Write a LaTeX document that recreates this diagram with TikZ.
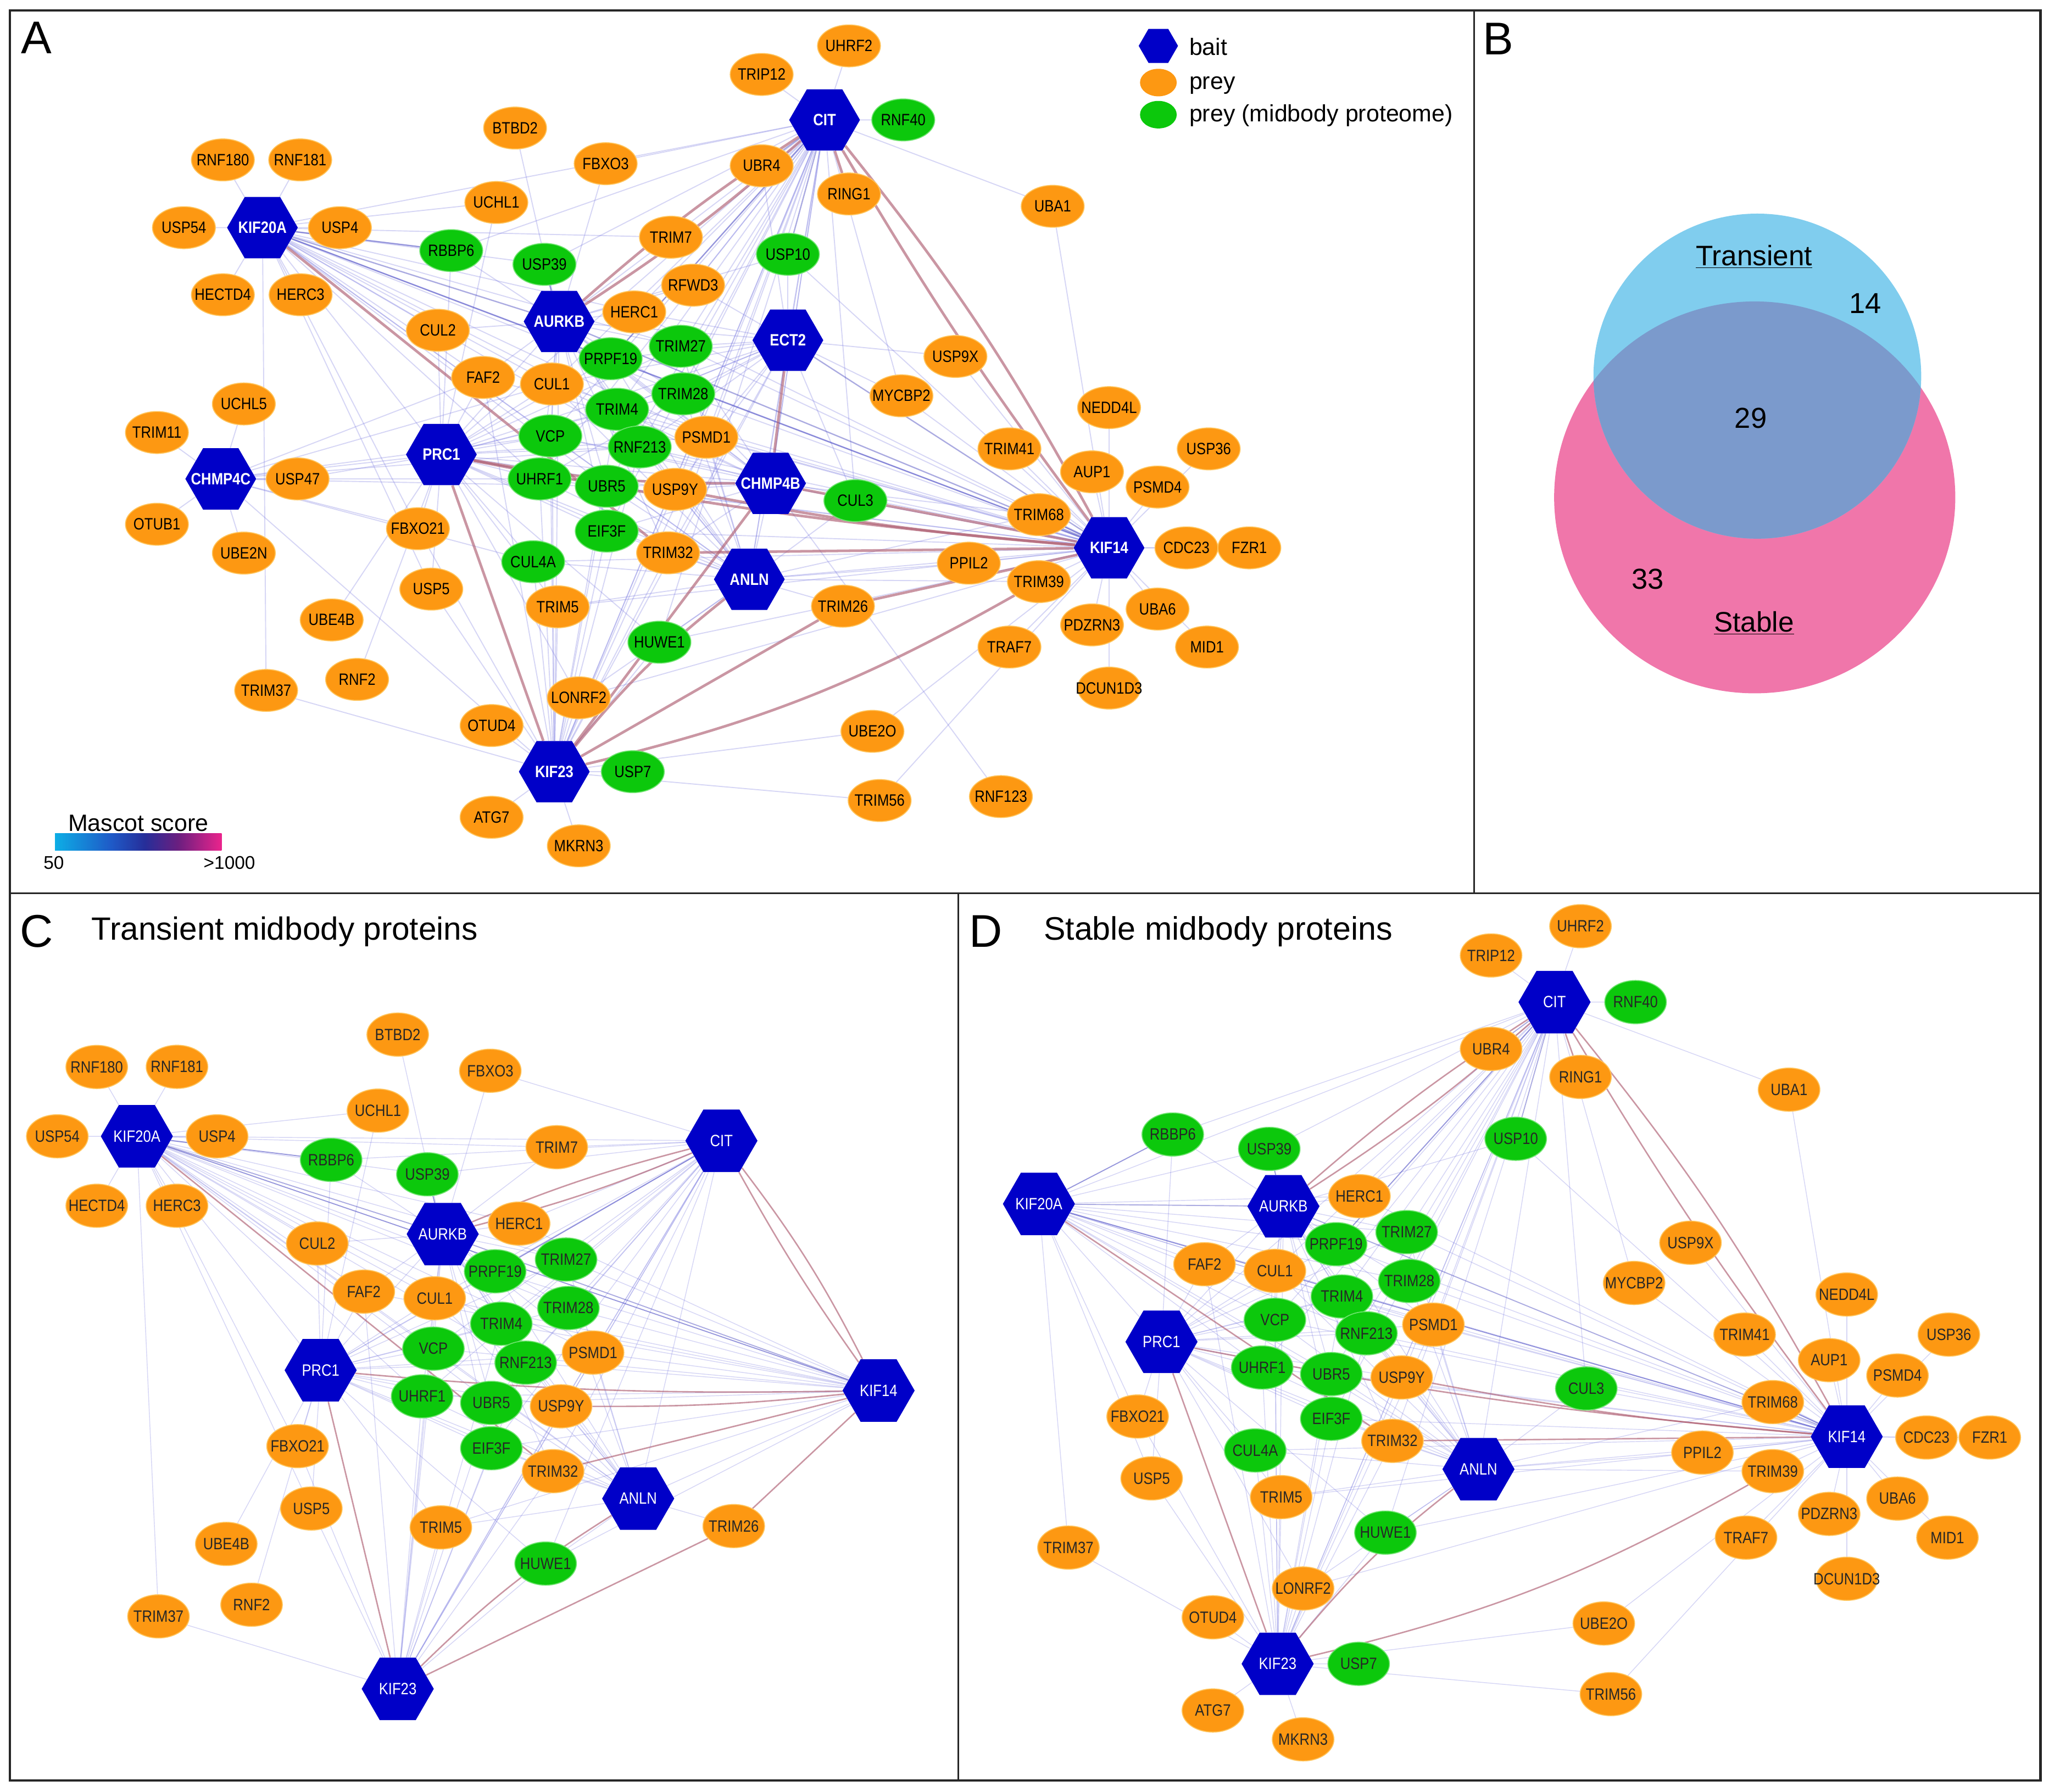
\documentclass[tikz,border=0pt]{standalone}
\usepackage{fontspec}
\setmainfont{Liberation Sans}
\newfontfamily\nf[FakeStretch=0.86]{Liberation Sans}
\usetikzlibrary{shapes.geometric}
\pgfdeclarelayer{back}
\pgfdeclarelayer{bg}
\pgfsetlayers{back,bg,main}
\definecolor{orng}{RGB}{253,152,18}
\definecolor{orngrim}{RGB}{255,196,90}
\definecolor{grn}{RGB}{12,200,12}
\definecolor{grnrim}{RGB}{110,228,110}
\definecolor{bblue}{RGB}{0,0,200}
\definecolor{elc}{RGB}{120,120,225}
\definecolor{emc}{RGB}{70,70,190}
\definecolor{ehc}{RGB}{175,95,115}
\definecolor{vblue}{RGB}{128,205,238}
\definecolor{vpink}{RGB}{240,118,170}
\definecolor{vover}{RGB}{123,154,204}
\pgfdeclarehorizontalshading{mascot}{100bp}{rgb(0bp)=(0.05,0.68,0.90); rgb(25bp)=(0.05,0.68,0.90); rgb(42bp)=(0.12,0.35,0.78); rgb(52bp)=(0.15,0.18,0.60); rgb(62bp)=(0.42,0.12,0.50); rgb(75bp)=(0.92,0.14,0.55); rgb(100bp)=(0.92,0.14,0.55)}
\newcommand\edg[4]{\ifcsname pgf@sh@ns@#1-#2\endcsname\ifcsname pgf@sh@ns@#1-#3\endcsname\draw[#4] (#1-#2) -- (#1-#3);\fi\fi}
\newcommand\edb[5]{\ifcsname pgf@sh@ns@#1-#2\endcsname\ifcsname pgf@sh@ns@#1-#3\endcsname\draw[#4] (#1-#2) to[bend left=#5] (#1-#3);\fi\fi}
\newcommand\alledges[1]{%
 \foreach \b/\ps in {
  KIF20A/{RNF180,RNF181,USP54,USP4,HECTD4,HERC3,TRIM37,RBBP6,USP39,CUL2,FAF2,CUL1,PRPF19,TRIM27,TRIM28,TRIM4,VCP,RNF213,UHRF1,UBR5,PSMD1,UCHL1,TRIM7,HERC1,USP5,FBXO21,CIT,PRC1,KIF14,ANLN},
  CIT/{UHRF2,TRIP12,RNF40,UBA1,TRIM7,PRPF19,TRIM27,TRIM28,TRIM4,RNF213,PSMD1,VCP,USP9Y,UBR5,EIF3F,TRIM32,ANLN,KIF23,PRC1,RFWD3,ECT2,CHMP4B,MYCBP2,CUL3,HUWE1,USP39,RBBP6,FBXO3,UHRF1,CUL1,HERC1},
  AURKB/{USP39,RBBP6,HERC1,PRPF19,TRIM27,CUL1,CUL2,FAF2,TRIM4,VCP,RNF213,USP10,FBXO3,BTBD2,PSMD1,TRIM28,UHRF1,UBR5,EIF3F,TRIM32,USP9Y,TRIM7,ANLN,KIF23,RFWD3,PRC1},
  ECT2/{USP10,PRPF19,TRIM27,TRIM28,PSMD1,RNF213,USP9X,MYCBP2,PRC1,VCP,UHRF1,TRIM4,UBR4,CUL1,RFWD3,USP9Y,TRIM32,CUL3,HERC1,ANLN,AURKB},
  PRC1/{FAF2,CUL2,UCHL1,RBBP6,CUL1,VCP,UHRF1,UBR5,TRIM4,RNF213,PRPF19,FBXO21,USP5,UBE4B,RNF2,TRIM5,CUL4A,EIF3F,TRIM32,USP9Y,PSMD1,ANLN,USP47,TRIM27,TRIM28,HUWE1,LONRF2},
  CHMP4C/{TRIM11,UCHL5,USP47,OTUB1,UBE2N,KIF23,FBXO21,PRC1,VCP,UHRF1,UBR5,RNF213,CUL1,FAF2,CUL4A},
  CHMP4B/{CUL3,PRC1,VCP,UHRF1,PSMD1,RNF213,TRIM28,USP9Y,UBR5,TRIM68,CIT,ANLN,AURKB,RNF123,TRIM27,PRPF19,EIF3F,TRIM32,TRIM4,CUL1},
  ANLN/{TRIM26,TRIM32,EIF3F,USP9Y,UBR5,HUWE1,TRIM5,PPIL2,TRIM39,CUL4A,PSMD1,RNF213,CUL3,LONRF2,UHRF1,VCP,TRIM4,TRIM28,PRPF19,TRIM27,CUL1,TRIM68,KIF14},
  KIF14/{NEDD4L,USP36,AUP1,PSMD4,TRIM41,TRIM68,CDC23,FZR1,PPIL2,TRIM39,UBA6,PDZRN3,MID1,TRAF7,DCUN1D3,UBA1,USP9X,MYCBP2,PSMD1,RNF213,TRIM28,TRIM27,PRPF19,TRIM4,VCP,UHRF1,UBR5,EIF3F,CUL3,USP10,HERC1,CUL1,FAF2,HUWE1,TRIM5,CUL4A,UBE2O,TRIM56,LONRF2},
  KIF23/{USP7,ATG7,MKRN3,OTUD4,LONRF2,TRIM37,TRIM5,CUL4A,UHRF1,UBR5,EIF3F,VCP,TRIM32,USP5,FBXO21,UBE2O,TRIM56,CIT,ECT2,TRIM4,RNF213,PSMD1,USP9Y,CUL1,FAF2,HUWE1}}
  {\foreach \q in \ps {\edg{#1}{\b}{\q}{elo}}}
 \foreach \a/\q in {KIF20A/AURKB,KIF20A/RBBP6,CIT/UBR4,CIT/USP10,AURKB/KIF14,ECT2/KIF14,KIF14/TRIM68,CIT/PRPF19,AURKB/USP39,KIF20A/KIF14}
  {\edg{#1}{\a}{\q}{emid}}
 \foreach \a/\q/\bd in {CIT/KIF14/5,CIT/KIF14/-3,CIT/AURKB/4,CIT/AURKB/-4,CIT/RING1/0,KIF20A/TRIM32/0,PRC1/KIF14/-3,PRC1/CHMP4B/-5,PRC1/KIF23/0,ECT2/CHMP4B/0,CHMP4B/KIF14/0,CHMP4B/KIF23/0,ANLN/KIF23/-6,USP9Y/KIF14/-3,TRIM32/KIF14/0,KIF23/TRIM39/-8,KIF23/TRIM26/0,TRIM26/KIF14/0}
  {\edb{#1}{\a}{\q}{ehi}{\bd}}
}
\begin{document}
\begin{tikzpicture}[x=1pt,y=-1pt,
 pfont/.style={font=\nf\fontsize{12.5}{12.5}\selectfont},
 oA/.style={ellipse,minimum width=48pt,minimum height=32pt,inner sep=0pt,fill=orng,draw=orngrim,line width=0.7pt,text=black,pfont},
 gA/.style={ellipse,minimum width=48pt,minimum height=32pt,inner sep=0pt,fill=grn,draw=grnrim,line width=0.7pt,text=black,pfont},
 bA/.style={regular polygon,regular polygon sides=6,minimum size=54pt,inner sep=0pt,fill=bblue,text=white,font=\nf\bfseries\fontsize{12.5}{12.5}\selectfont},
 oC/.style={ellipse,minimum width=47pt,minimum height=33pt,inner sep=0pt,fill=orng,draw=orngrim,line width=0.7pt,text=black!85,pfont},
 gC/.style={ellipse,minimum width=47pt,minimum height=33pt,inner sep=0pt,fill=grn,draw=grnrim,line width=0.7pt,text=black!85,pfont},
 bC/.style={regular polygon,regular polygon sides=6,minimum size=55pt,inner sep=0pt,fill=bblue,text=white,pfont},
 elo/.style={draw=elc,line width=\lwlo,opacity=0.3},
 emid/.style={draw=emc,line width=\lwmid,opacity=0.45},
 ehi/.style={draw=ehc,line width=\lwhi,opacity=0.65},
 lbl/.style={inner sep=0pt,anchor=base west},
 frame/.style={draw=black!85,line width=1.4pt}]
\begin{pgfonlayer}{back}
\fill[white] (0,0) rectangle (1563,1367.3);
\end{pgfonlayer}
\useasboundingbox (0,0) rectangle (1563,1367.3);

% ---------------- Panel A nodes
\foreach \nm/\x/\y in {CIT/629/91.5,KIF20A/200.2/173.7,AURKB/426.5/245.3,ECT2/601/259.6,PRC1/336.7/346.8,CHMP4C/168.4/365.4,CHMP4B/587.8/368.8,ANLN/571.6/442,KIF14/846/418,KIF23/422.8/588.8}
 \node[bA] (A-\nm) at (\x,\y) {\makebox[0pt]{\nm}};
\foreach \nm/\x/\y in {UHRF2/647.6/35,TRIP12/581/56.8,BTBD2/392.9/97.7,RNF180/170/122,RNF181/229/122,FBXO3/462/124.9,UBR4/581/126.5,RING1/647.6/148,UBA1/803/157.4,UCHL1/378.6/154.5,USP54/140.3/173.7,USP4/259.3/173.7,TRIM7/511.8/181,RFWD3/528.7/217.6,HECTD4/170/224.9,HERC3/229.3/224.9,HERC1/483.8/238,CUL2/334/252,USP9X/728.8/272,FAF2/368.5/288,CUL1/421/293,MYCBP2/687.6/302,UCHL5/186/308.2,NEDD4L/846/311,TRIM11/119.7/330,PSMD1/538.8/333.6,TRIM41/770/342.5,USP36/922/342.5,AUP1/833/360,USP47/227/365.4,PSMD4/883/371.6,USP9Y/515/373.4,TRIM68/792.5/392.7,OTUB1/119.7/400,FBXO21/318.8/403.4,UBE2N/186/422,TRIM32/509.6/421.8,CDC23/905/418,FZR1/953/418,PPIL2/739/429.7,TRIM39/792.5/443.8,USP5/329/449.5,TRIM5/425.4/463,TRIM26/643/462.5,UBA6/883/464.7,UBE4B/253/473,PDZRN3/833/476.8,TRAF7/770/493.7,MID1/920.7/493.7,RNF2/272.4/518.4,TRIM37/203/526.8,DCUN1D3/846/525,LONRF2/441.5/532.4,OTUD4/375/553.6,UBE2O/665.5/558,TRIM56/671/610.8,RNF123/763.5/607.8,ATG7/375/623.6,MKRN3/441.5/645.4}
 \node[oA] (A-\nm) at (\x,\y) {\makebox[0pt]{\nm}};
\foreach \nm/\x/\y in {RNF40/689/91.5,RBBP6/344.2/191.2,USP39/415.3/201.7,USP10/601/194,PRPF19/465.8/273.7,TRIM27/519.3/264.2,TRIM28/521.2/300.5,TRIM4/470.7/312.3,VCP/419.8/332.6,RNF213/488/341,UHRF1/411.6/365.4,UBR5/462.8/371,EIF3F/462.8/405.2,CUL3/652.5/382,CUL4A/406.7/428.6,HUWE1/503/490,USP7/482.7/588.8}
 \node[gA] (A-\nm) at (\x,\y) {\makebox[0pt]{\nm}};

% ---------------- Panel C nodes
\foreach \nm/\x/\y in {KIF20A/104.4/867,AURKB/337.7/941.6,CIT/550.3/870.4,PRC1/244.6/1045.5,KIF14/670.2/1061,ANLN/486.8/1143.4,KIF23/303.4/1288.6}
 \node[bC] (C-\nm) at (\x,\y) {\makebox[0pt]{\nm}};
\foreach \nm/\x/\y in {BTBD2/303.4/789.4,RNF180/73.8/814.1,RNF181/135/814,FBXO3/374/817,UCHL1/288.3/847.4,USP54/43.7/867,USP4/165.6/867,TRIM7/424.7/875.3,HECTD4/73.8/920,HERC3/135/920,CUL2/242/948.8,HERC1/396/933.6,FAF2/277.5/985.5,CUL1/331.6/990.6,PSMD1/452.4/1032,USP9Y/428/1073,FBXO21/227/1103.4,TRIM32/421.9/1122.5,USP5/237.5/1151,TRIM5/336.3/1165.4,TRIM26/559.7/1164.4,UBE4B/172.6/1178,RNF2/191.9/1224.4,TRIM37/120.9/1233.3}
 \node[oC] (C-\nm) at (\x,\y) {\makebox[0pt]{\nm}};
\foreach \nm/\x/\y in {RBBP6/252.6/885,USP39/326/896,PRPF19/377.7/970,TRIM27/431.8/961,TRIM28/433.6/998,TRIM4/382.4/1010,VCP/330.6/1029,RNF213/401/1039.7,UHRF1/322/1065.4,UBR5/374.8/1070.4,EIF3F/374.8/1105,HUWE1/416.2/1193}
 \node[gC] (C-\nm) at (\x,\y) {\makebox[0pt]{\nm}};

% ---------------- Panel D nodes
\foreach \nm/\x/\y in {CIT/1185.8/764.6,KIF20A/792.5/918.6,AURKB/979/920.4,PRC1/886/1023.8,ANLN/1127.8/1121,KIF14/1408.7/1096.2,KIF23/974.6/1269.5}
 \node[bC] (D-\nm) at (\x,\y) {\makebox[0pt]{\nm}};
\foreach \nm/\x/\y in {UHRF2/1205.6/706.7,TRIP12/1137.4/729,UBR4/1137.4/800.3,RING1/1205.6/821.7,UBA1/1364.7/831.4,HERC1/1037/912.7,USP9X/1289.5/948.2,FAF2/918.8/964.6,CUL1/972.5/969.7,MYCBP2/1246.5/978.9,NEDD4L/1408.7/987.7,PSMD1/1093.4/1010.7,TRIM41/1330.8/1018.3,USP36/1486.6/1018.3,AUP1/1395.3/1037.8,PSMD4/1447.4/1049.5,USP9Y/1069.2/1051,TRIM68/1352.3/1069.8,FBXO21/867.8/1080.8,CDC23/1469.5/1096.8,FZR1/1517.8/1096.8,TRIM32/1062.2/1099.4,PPIL2/1298.6/1108.3,TRIM39/1352.3/1122.5,USP5/878.5/1128,TRIM5/977.3/1142.3,UBA6/1447.4/1143.4,PDZRN3/1395.3/1155.1,TRAF7/1331.9/1173.2,MID1/1485.5/1173.2,TRIM37/815/1180.8,DCUN1D3/1408.7/1204.6,LONRF2/994/1212,OTUD4/925.2/1234,UBE2O/1223.4/1238.7,TRIM56/1228.8/1292.6,ATG7/925.2/1305.1,MKRN3/994/1327.1}
 \node[oC] (D-\nm) at (\x,\y) {\makebox[0pt]{\nm}};
\foreach \nm/\x/\y in {RNF40/1247.6/764.6,RBBP6/894.6/865.6,USP39/968.2/876.6,USP10/1156.2/868.9,TRIM27/1073/940.1,PRPF19/1019.2/949.3,TRIM28/1075/977.4,TRIM4/1023.6/989.2,VCP/972.5/1007,RNF213/1042.3/1017.3,UHRF1/962.8/1043.4,UBR5/1015.5/1048.4,CUL3/1210/1059.4,EIF3F/1015.5/1082.5,CUL4A/957.5/1106.7,HUWE1/1056.8/1169.4,USP7/1036.4/1269.5}
 \node[gC] (D-\nm) at (\x,\y) {\makebox[0pt]{\nm}};

% ---------------- edges
\begin{pgfonlayer}{bg}
\def\lwlo{0.8pt}\def\lwmid{1.0pt}\def\lwhi{2.0pt}
\alledges{A}
\def\lwlo{0.6pt}\def\lwmid{0.8pt}\def\lwhi{1.1pt}
\alledges{C}
\alledges{D}
\end{pgfonlayer}

% ---------------- legend
\node[regular polygon,regular polygon sides=6,minimum size=30pt,inner sep=0pt,fill=bblue] (lgb) at (883.6,35) {};
\node[ellipse,minimum width=28pt,minimum height=21pt,inner sep=0pt,fill=orng] (lgo) at (883.6,63) {};
\node[ellipse,minimum width=28pt,minimum height=21pt,inner sep=0pt,fill=grn] (lgg) at (883.6,87.5) {};
\node[lbl,font=\fontsize{18}{18}\selectfont] (lgbt) at (907,42) {bait};
\node[lbl,font=\fontsize{18}{18}\selectfont] (lgot) at (907,68) {prey};
\node[lbl,font=\fontsize{18}{18}\selectfont] (lggt) at (907,93) {prey (midbody proteome)};

% ---------------- mascot score bar
\shade[shading=mascot] (42,636) rectangle (169,649);
\node[inner sep=0pt,anchor=base,font=\fontsize{18}{18}\selectfont] (msc) at (105.5,634) {Mascot score};
\node[inner sep=0pt,anchor=base,font=\fontsize{14}{14}\selectfont] (m50) at (41,663) {50};
\node[inner sep=0pt,anchor=base,font=\fontsize{14}{14}\selectfont] (m1000) at (175,663) {>1000};

% ---------------- Venn (panel B)
\fill[vpink] (1338.5,379.5) ellipse [x radius=153pt, y radius=149.5pt];
\fill[vblue] (1340.5,287) ellipse [x radius=125pt, y radius=124pt];
\begin{scope}
 \clip (1338.5,379.5) ellipse [x radius=153pt, y radius=149.5pt];
 \fill[vover] (1340.5,287) ellipse [x radius=125pt, y radius=124pt];
\end{scope}
\node[inner sep=0pt,anchor=base,font=\fontsize{21.5}{21.5}\selectfont] (vt) at (1338,202.6) {\underline{Transient}};
\node[inner sep=0pt,anchor=base,font=\fontsize{22}{22}\selectfont] (v14) at (1422.7,239) {14};
\node[inner sep=0pt,anchor=base,font=\fontsize{22}{22}\selectfont] (v29) at (1335.5,326.6) {29};
\node[inner sep=0pt,anchor=base,font=\fontsize{22}{22}\selectfont] (v33) at (1257,449.3) {33};
\node[inner sep=0pt,anchor=base,font=\fontsize{21.5}{21.5}\selectfont] (vs) at (1338,482) {\underline{Stable}};

% ---------------- panel letters and titles
\node[lbl,font=\fontsize{35}{35}\selectfont] (pA) at (16,41) {A};
\node[lbl,font=\fontsize{35}{35}\selectfont] (pB) at (1131,41.5) {B};
\node[lbl,font=\fontsize{35}{35}\selectfont] (pC) at (15,722.5) {C};
\node[lbl,font=\fontsize{35}{35}\selectfont] (pD) at (739,722.5) {D};
\node[lbl,font=\fontsize{24.5}{24.5}\selectfont] (tC) at (69.6,717) {Transient midbody proteins};
\node[lbl,font=\fontsize{24.8}{24.8}\selectfont] (tD) at (796,717) {Stable midbody proteins};

% ---------------- frames
\draw[frame,line width=2pt] (7.5,8) rectangle (1556.5,1358.5);
\draw[frame] (1124.5,8) -- (1124.5,681.5);
\draw[frame] (7.5,681.5) -- (1556.5,681.5);
\draw[frame] (731,681.5) -- (731,1358.5);
\end{tikzpicture}
\end{document}
